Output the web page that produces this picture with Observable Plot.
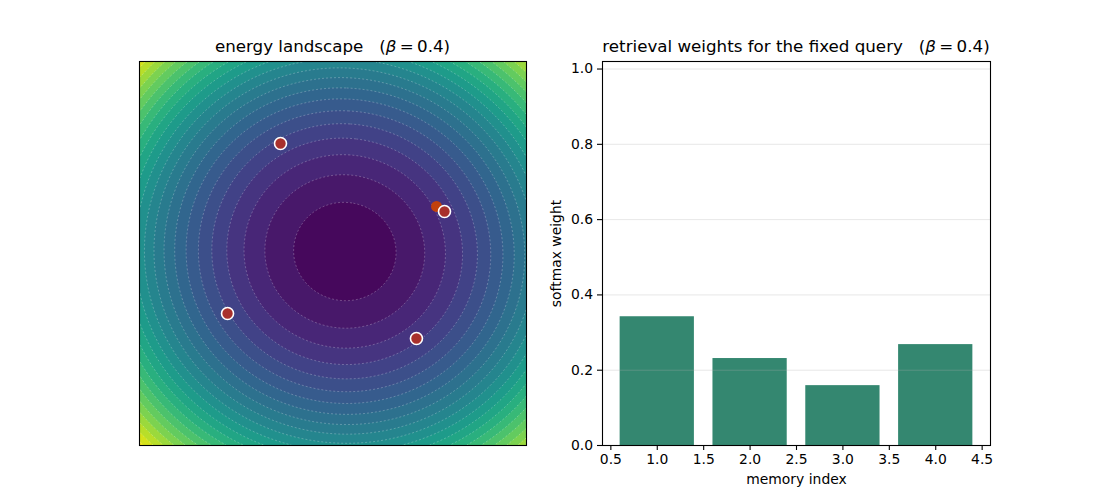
<!DOCTYPE html>
<html>
<head>
<meta charset="utf-8">
<script src="https://cdn.jsdelivr.net/npm/d3@7"></script>
<script src="https://cdn.jsdelivr.net/npm/@observablehq/plot@0.6"></script>
<style>
  html, body { margin: 0; padding: 0; background: #fff; }
  #wrap { position: relative; width: 1100px; height: 500px; background: #fff; overflow: hidden;
          font-family: "DejaVu Sans", sans-serif; }
  #wrap > svg, #wrap > div.plotbox { position: absolute; top: 0; }
  .title { position: absolute; top: 38px; font-size: 16.7px; line-height: 1; color: #000;
           white-space: nowrap; transform: translateX(-50%); font-family: "DejaVu Sans", sans-serif; }
</style>
</head>
<body>
<div id="wrap"></div>
<script>
// ---- data ----
const beta = 0.4;
const memoryIndex = [1, 2, 3, 4];
const memoryX = [0.922, -0.434, -0.872, 0.690];
const memoryY = [0.350, 0.917, -0.500, -0.708];
const queryX = [0.856];
const queryY = [0.392];
const weights = [0.342, 0.231, 0.159, 0.268];
const xTicks = [0.5, 1.0, 1.5, 2.0, 2.5, 3.0, 3.5, 4.0, 4.5];
const yTicks = [0.0, 0.2, 0.4, 0.6, 0.8, 1.0];
const span = 1.6;
const levelStep = 0.1;

// ---- energy of modern Hopfield network ----
function energy(x, y) {
  const a = memoryX.map((mx, i) => beta * (mx * x + memoryY[i] * y));
  const m = Math.max(...a);
  const lse = m + Math.log(a.reduce((s, v) => s + Math.exp(v - m), 0));
  return -lse / beta + 0.5 * (x * x + y * y);
}
let eMin = Infinity, eMax = -Infinity;
const N = 320;
for (let i = 0; i <= N; i++) for (let j = 0; j <= N; j++) {
  const e = energy(-span + 2 * span * i / N, -span + 2 * span * j / N);
  if (e < eMin) eMin = e; if (e > eMax) eMax = e;
}
const k0 = Math.floor(eMin / levelStep), k1 = Math.ceil(eMax / levelStep);
const levels = d3.range(k0, k1 + 1).map(k => k * levelStep);
const thresholds = levels.slice(0, -1);
const lo = levels[0], hi = levels[levels.length - 1];

const memories = memoryIndex.map((d, i) => ({x: memoryX[i], y: memoryY[i]}));
const query = queryX.map((d, i) => ({x: d, y: queryY[i]}));
const bars = memoryIndex.map((d, i) => ({i: d, w: weights[i]}));

const wrap = document.getElementById("wrap");
const font = "DejaVu Sans, sans-serif";

// ---- left: energy landscape ----
const left = Plot.plot({
  width: 560, height: 500,
  marginLeft: 139, marginRight: 34, marginTop: 61, marginBottom: 55,
  style: {fontFamily: font, background: "transparent", overflow: "visible"},
  x: {domain: [-span, span], axis: null},
  y: {domain: [-span, span], axis: null},
  color: {type: "linear", scheme: "viridis", domain: [lo - levelStep / 2, hi - levelStep / 2], clamp: true},
  marks: [
    Plot.contour({value: energy, x1: -span, x2: span, y1: -span, y2: span, pixelSize: 1,
                  thresholds, fill: "value", stroke: "none"}),
    Plot.contour({value: energy, x1: -span, x2: span, y1: -span, y2: span, pixelSize: 1,
                  thresholds: thresholds.slice(1), fill: "none", stroke: "white",
                  strokeOpacity: 0.35, strokeWidth: 0.7, strokeDasharray: "2,2"}),
    Plot.dot(query, {x: "x", y: "y", r: 5.5, fill: "#c2410c", stroke: "none"}),
    Plot.dot(memories, {x: "x", y: "y", r: 6, fill: "#a8302c", stroke: "white", strokeWidth: 1.6}),
    Plot.frame({stroke: "black", strokeWidth: 1.1})
  ]
});
left.style.left = "0px";
left.style.position = "absolute";
wrap.appendChild(left);

// ---- right: retrieval weights ----
const right = Plot.plot({
  width: 550, height: 500,
  marginLeft: 52, marginRight: 110, marginTop: 61, marginBottom: 55,
  style: {fontFamily: font, fontSize: "13.9px", color: "#000", background: "transparent", overflow: "visible"},
  x: {domain: [0.41, 4.59]},
  y: {domain: [0, 1.02]},
  marks: [
    Plot.rectY(bars, {x1: d => d.i - 0.4, x2: d => d.i + 0.4, y1: 0, y2: "w", fill: "#348770"}),
    Plot.gridY(yTicks, {stroke: "#b0b0b0", strokeOpacity: 0.3, strokeWidth: 1}),
    Plot.axisX(xTicks, {tickFormat: d3.format(".1f"), tickSize: 5, tickPadding: 4, strokeWidth: 1.1, label: null, fontSize: 13.9}),
    Plot.axisY(yTicks, {tickFormat: d3.format(".1f"), tickSize: 5, tickPadding: 4.5, strokeWidth: 1.1, label: null, fontSize: 13.9}),
    Plot.frame({stroke: "black", strokeWidth: 1.1}),
    Plot.text(["memory index"], {frameAnchor: "bottom", dy: 34, lineAnchor: "middle", fontSize: 13.9, fill: "#000"}),
    Plot.text(["softmax weight"], {frameAnchor: "left", dx: -46, rotate: -90, textAnchor: "middle", lineAnchor: "middle", fontSize: 13.9, fill: "#000"})
  ]
});
right.style.left = "550px";
right.style.position = "absolute";
wrap.appendChild(right);

// ---- titles ----
function addTitle(html, cx) {
  const d = document.createElement("div");
  d.className = "title";
  d.style.left = cx + "px";
  d.innerHTML = html;
  wrap.appendChild(d);
}
addTitle('energy landscape&nbsp;&nbsp;&nbsp;(<i>β</i>&#8201;=&#8201;0.4)', 332.5);
addTitle('retrieval weights for the fixed query&nbsp;&nbsp;&nbsp;(<i>β</i>&#8201;=&#8201;0.4)', 796);
</script>
</body>
</html>
